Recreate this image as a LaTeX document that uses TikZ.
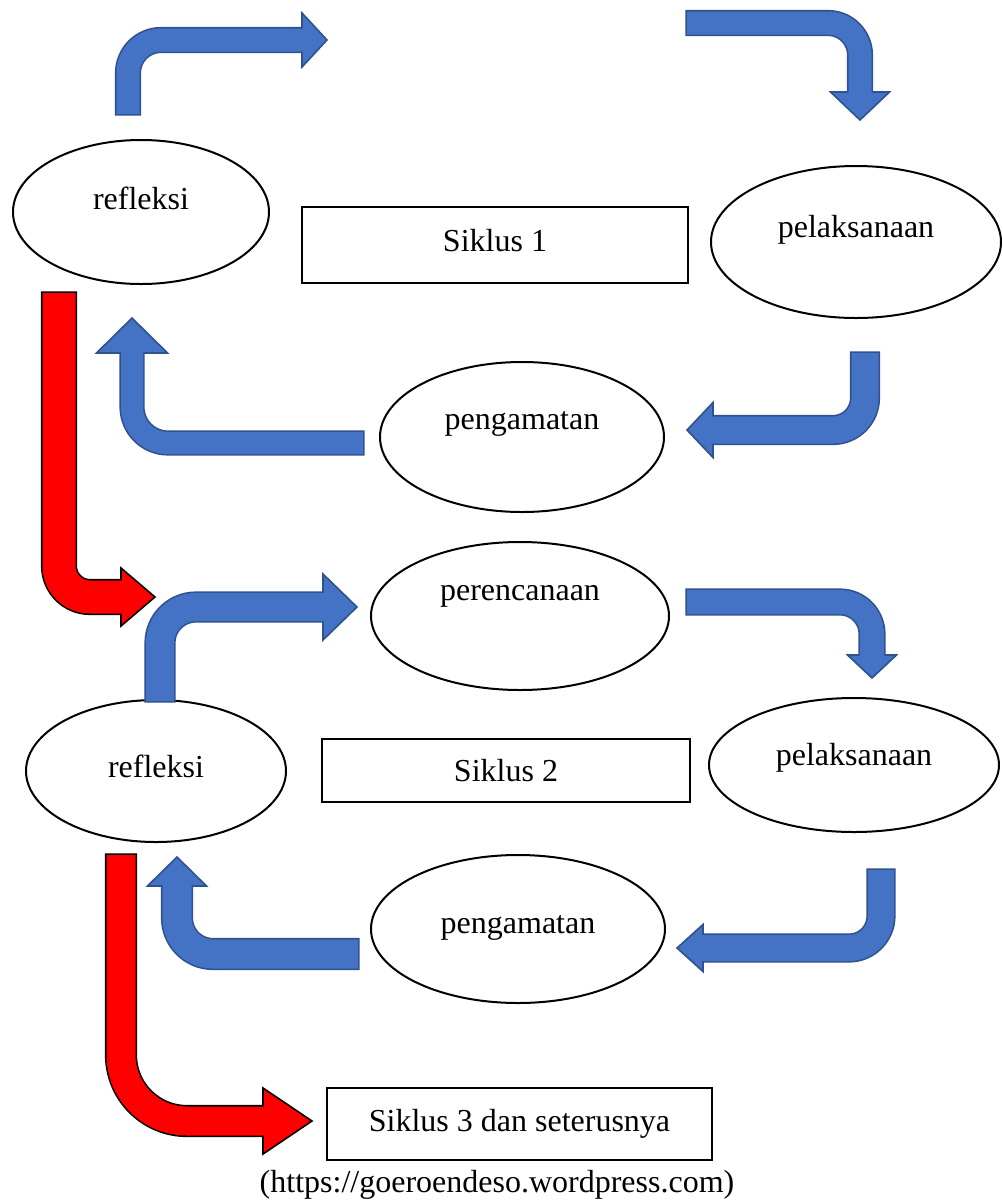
\documentclass[tikz,border=0pt]{standalone}
\usepackage{fontspec}
\setmainfont{Liberation Serif}
\usetikzlibrary{shapes.geometric,calc}

\definecolor{arrowblue}{HTML}{4472C4}
\definecolor{arrowblueedge}{HTML}{2F528F}
\definecolor{arrowred}{HTML}{FF0000}
\definecolor{arrowrededge}{HTML}{000000}

% #1 colour, #2 arrow name, #3 shaft width, #4 bend radius, #5 half head
\newcommand\bentarrow[5]{%
  \pgfmathsetlengthmacro\edgewidth{#3pt+1.6pt}
  \draw[#1edge,line width=\edgewidth,rounded corners=#4pt,shorten <=-0.8pt]
    (#2s) -- (#2c) -- (#2b);
  \filldraw[fill=#1,draw=#1edge,line width=0.8pt,line join=miter]
    ($(#2b)!#5pt!90:(#2t)$) -- (#2t) -- ($(#2b)!#5pt!-90:(#2t)$) -- cycle;
  \draw[#1,line width=#3pt,rounded corners=#4pt]
    (#2s) -- (#2c) -- ($(#2b)!-1.5pt!(#2c)$);
}

\tikzset{
  phase/.style={ellipse,draw,line width=1pt,inner sep=0pt},
  cycle box/.style={rectangle,draw,line width=1pt,inner sep=0pt}
}

\begin{document}
\begin{tikzpicture}[x=0.5pt,y=-0.5pt,font=\fontsize{16}{19}\selectfont]
      \useasboundingbox (0,0) rectangle (1002,1200);

      \node (ref1) [phase,minimum width=128pt,minimum height=72pt,
        label={[yshift=7pt]center:refleksi}] at (141,212) {};
      \node (pel1) [phase,minimum width=145pt,minimum height=76pt,
        label={[yshift=6pt]center:pelaksanaan}] at (856,242) {};
      \node (peng1) [phase,minimum width=142pt,minimum height=75pt,
        label={[yshift=6.5pt]center:pengamatan}] at (522,437) {};
      \node (ren) [phase,minimum width=149pt,minimum height=74pt,
        label={[yshift=10pt]center:perencanaan}] at (520,616) {};
      \node (ref2) [phase,minimum width=130pt,minimum height=71pt,
        label={[yshift=2.5pt]center:refleksi}] at (156,771) {};
      \node (pel2) [phase,minimum width=145pt,minimum height=67pt,
        label={[yshift=3.5pt]center:pelaksanaan}] at (854,765) {};
      \node (peng2) [phase,minimum width=147pt,minimum height=74pt,
        label={[yshift=0.5pt]center:pengamatan}] at (518,929) {};

      \node (s1) [cycle box,minimum width=193pt,minimum height=38pt,text depth=5pt] at (495,245) {Siklus 1};
      \node (s2) [cycle box,minimum width=184pt,minimum height=31.5pt] at (506,770.5) {Siklus 2};
      \node (s3) [cycle box,minimum width=192.5pt,minimum height=36pt] at (519.5,1124) {Siklus 3 dan seterusnya};
      \node (src) at (497,1185) {(https://goeroendeso.wordpress.com)};

      \coordinate (a1s) at (128,114);  \coordinate (a1c) at (128,40);
      \coordinate (a1b) at (302,40);   \coordinate (a1t) at (327,40);
      \coordinate (a2s) at (687,23);   \coordinate (a2c) at (860,23);
      \coordinate (a2b) at (860,92);   \coordinate (a2t) at (860,120);
      \coordinate (a3s) at (363,443);  \coordinate (a3c) at (132,443);
      \coordinate (a3b) at (132,353);  \coordinate (a3t) at (132,318);
      \coordinate (a4s) at (865,353);  \coordinate (a4c) at (865,430);
      \coordinate (a4b) at (713,430);  \coordinate (a4t) at (687,430);
      \coordinate (a5s) at (160,701);  \coordinate (a5c) at (160,607);
      \coordinate (a5b) at (323,607);  \coordinate (a5t) at (357,607);
      \coordinate (a6s) at (687,602);  \coordinate (a6c) at (872,602);
      \coordinate (a6b) at (872,655);  \coordinate (a6t) at (872,678);
      \coordinate (a7s) at (881,870);  \coordinate (a7c) at (881,948);
      \coordinate (a7b) at (703,948);  \coordinate (a7t) at (677,948);
      \coordinate (a8s) at (358,954);  \coordinate (a8c) at (177,954);
      \coordinate (a8b) at (177,886);  \coordinate (a8t) at (177,857);
      \coordinate (r1s) at (59,293);   \coordinate (r1c) at (59,597);
      \coordinate (r1b) at (121,597);  \coordinate (r1t) at (155,597);
      \coordinate (r2s) at (121,855);  \coordinate (r2c) at (121,1121);
      \coordinate (r2b) at (263,1121); \coordinate (r2t) at (312,1121);

      \bentarrow{arrowblue}{a1}{11.5}{16.5}{13.5}
      \bentarrow{arrowblue}{a2}{11.5}{16}{14.75}
      \bentarrow{arrowblue}{a3}{11}{18}{17.75}
      \bentarrow{arrowblue}{a4}{13.5}{16}{13.75}
      \bentarrow{arrowblue}{a5}{14}{18}{16.5}
      \bentarrow{arrowblue}{a6}{12}{16}{12.25}
      \bentarrow{arrowblue}{a7}{13}{16}{11.75}
      \bentarrow{arrowblue}{a8}{14.5}{18}{14.75}
      \bentarrow{arrowred}{r1}{16.5}{15.5}{14.5}
      \bentarrow{arrowred}{r2}{14.5}{33}{16.5}

    \end{tikzpicture}
\end{document}
